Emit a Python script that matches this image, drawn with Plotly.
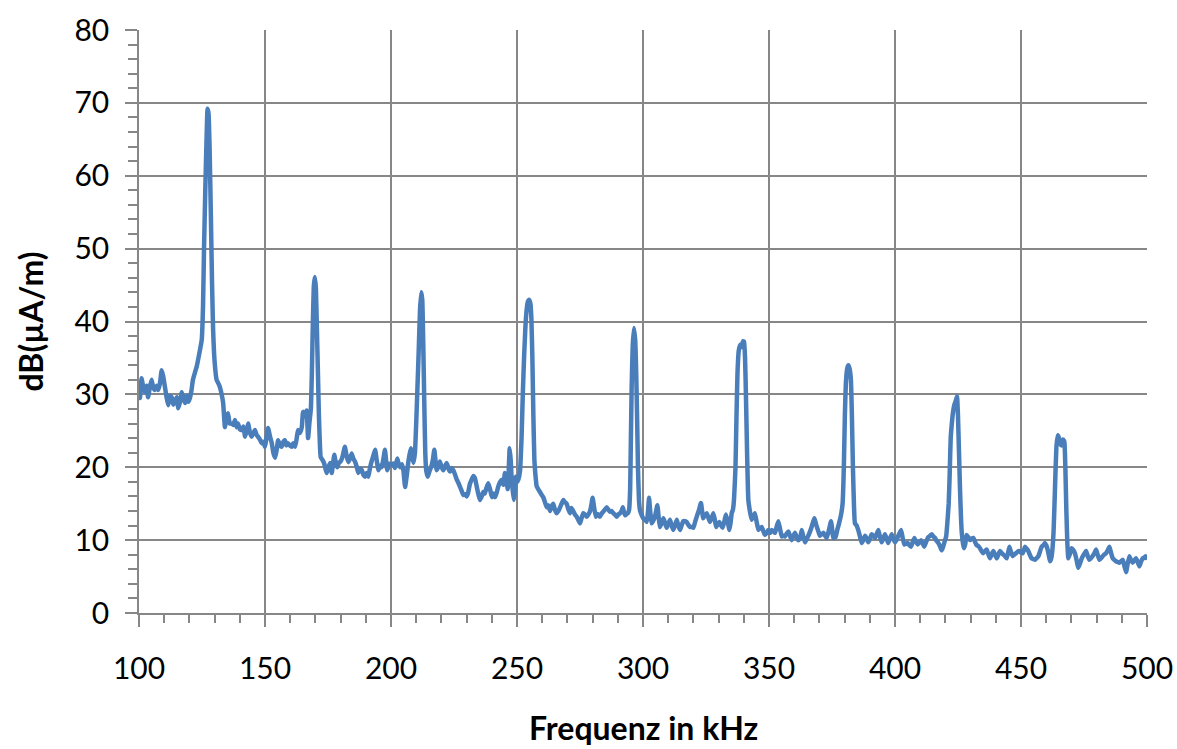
import plotly.graph_objects as go

# Frequency (kHz) and level dB(µA/m)
freq_khz = [
    100.0, 100.4, 101.0, 101.7, 102.4, 103.0, 103.6, 104.3, 105.0, 105.6, 106.3, 107.0, 107.6, 108.3, 109.0, 109.6,
    110.3, 111.0, 111.6, 112.3, 113.0, 113.6, 114.3, 115.0, 115.6, 116.3, 117.0, 117.6, 118.3, 119.0, 119.6, 120.2,
    120.8, 121.4, 122.2, 122.9, 123.6, 124.2, 124.9, 125.4, 125.8, 126.3, 126.8, 127.2, 127.6, 128.0, 128.5, 129.0,
    129.4, 130.0, 130.8, 131.5, 132.1, 132.8, 133.4, 134.1, 134.7, 135.3, 136.0, 136.8, 137.4, 138.1, 138.7, 139.3,
    140.0, 140.7, 141.4, 142.1, 142.7, 143.3, 144.0, 144.7, 145.3, 146.0, 146.6, 147.2, 148.0, 148.7, 149.3, 150.0,
    150.6, 151.2, 152.0, 152.7, 153.3, 154.0, 154.6, 155.2, 156.0, 156.6, 157.3, 157.9, 158.5, 159.1, 159.8, 160.6,
    161.2, 161.9, 162.5, 163.1, 163.8, 164.6, 165.1, 165.8, 166.5, 167.1, 167.6, 168.2, 168.6, 169.0, 169.4, 169.8,
    170.2, 170.6, 171.0, 171.4, 171.8, 172.1, 172.8, 173.4, 174.0, 174.5, 175.2, 175.8, 176.5, 177.0, 177.5, 178.1,
    178.7, 179.3, 180.0, 180.8, 181.7, 182.4, 183.1, 183.8, 184.4, 185.0, 185.7, 186.3, 187.0, 187.7, 188.4, 189.0,
    189.7, 190.3, 191.0, 191.6, 192.3, 193.0, 193.7, 194.3, 195.0, 195.6, 196.3, 197.0, 197.6, 198.5, 199.4, 200.3,
    201.0, 201.6, 202.5, 203.0, 203.6, 204.3, 204.9, 205.6, 206.3, 206.9, 207.8, 208.4, 208.9, 209.5, 210.0, 210.5,
    211.0, 211.5, 212.0, 212.4, 212.8, 213.2, 213.6, 214.0, 214.6, 215.3, 215.9, 216.6, 217.2, 218.1, 218.7, 219.4,
    220.1, 220.8, 221.5, 222.1, 222.8, 223.4, 224.0, 224.7, 225.4, 226.1, 226.8, 227.4, 228.0, 228.7, 229.4, 230.0,
    230.6, 231.3, 232.0, 232.7, 233.3, 234.0, 234.6, 235.3, 236.0, 236.6, 237.2, 237.9, 238.6, 239.3, 240.0, 240.6,
    241.3, 242.0, 242.6, 243.3, 244.0, 244.6, 245.2, 245.8, 246.3, 246.7, 247.1, 247.5, 247.9, 248.4, 248.8, 249.2,
    249.5, 250.0, 250.5, 251.2, 251.8, 252.3, 252.8, 253.3, 253.8, 254.3, 254.8, 255.3, 255.7, 256.1, 256.5, 256.9,
    257.3, 257.8, 258.4, 259.1, 259.8, 260.4, 261.1, 261.8, 262.4, 263.1, 263.7, 264.4, 265.0, 265.7, 266.4, 267.1,
    267.7, 268.4, 269.0, 269.7, 270.3, 271.0, 271.6, 272.3, 273.0, 273.7, 274.3, 275.0, 275.6, 276.3, 277.0, 277.7,
    278.3, 279.0, 279.5, 280.0, 280.6, 281.3, 282.1, 282.9, 283.5, 284.2, 284.9, 285.6, 286.2, 286.9, 287.5, 288.2,
    288.9, 289.6, 290.2, 290.9, 291.5, 292.0, 292.5, 292.9, 293.5, 294.0, 294.5, 294.9, 295.2, 295.5, 295.9, 296.4,
    296.9, 297.3, 297.7, 298.0, 298.4, 298.8, 299.4, 300.1, 300.8, 301.5, 302.0, 302.4, 302.9, 303.4, 304.0, 304.5,
    305.1, 305.7, 306.2, 306.7, 307.4, 308.1, 308.7, 309.4, 310.0, 310.7, 311.3, 312.0, 312.7, 313.4, 314.0, 314.7,
    315.3, 316.0, 316.7, 317.3, 318.0, 318.7, 319.3, 320.0, 320.6, 321.3, 322.2, 323.0, 323.9, 324.6, 325.3, 326.0,
    326.6, 327.3, 327.9, 328.5, 329.0, 329.7, 330.3, 331.0, 331.6, 332.3, 332.9, 333.6, 334.3, 334.8, 335.2, 335.7,
    336.1, 336.7, 337.1, 337.5, 338.0, 338.6, 339.2, 339.7, 340.1, 340.5, 340.9, 341.3, 341.8, 342.4, 343.1, 343.8,
    344.4, 345.1, 345.8, 346.4, 347.1, 347.8, 348.4, 349.1, 349.7, 350.4, 351.1, 351.7, 352.4, 353.0, 353.7, 354.4,
    355.1, 355.7, 356.3, 357.0, 357.7, 358.3, 359.0, 359.6, 360.3, 361.0, 361.6, 362.3, 363.0, 363.6, 364.3, 365.0,
    365.6, 366.3, 366.9, 367.5, 368.0, 368.5, 369.0, 369.6, 370.2, 370.9, 371.6, 372.3, 372.9, 373.8, 374.6, 375.1,
    375.5, 376.4, 377.1, 377.8, 378.6, 379.2, 379.7, 380.1, 380.5, 381.0, 381.5, 382.0, 382.5, 382.9, 383.3, 383.7,
    384.1, 384.8, 385.4, 386.1, 386.8, 387.4, 388.1, 388.8, 389.4, 390.1, 390.7, 391.4, 392.1, 392.7, 393.4, 394.0,
    394.7, 395.3, 396.0, 396.7, 397.3, 398.0, 398.7, 399.3, 400.0, 400.7, 401.3, 402.4, 403.0, 403.7, 404.3, 405.0,
    405.7, 406.3, 407.0, 407.7, 408.3, 409.0, 409.7, 410.3, 411.0, 411.6, 412.4, 413.2, 413.9, 414.6, 415.2, 415.9,
    416.5, 417.2, 417.9, 418.5, 419.0, 419.6, 420.3, 420.8, 421.3, 421.7, 422.1, 422.5, 423.0, 423.5, 424.0, 424.6,
    425.0, 425.4, 425.8, 426.2, 426.5, 427.0, 427.4, 427.9, 428.4, 429.1, 429.8, 430.4, 431.1, 431.7, 432.4, 433.0,
    433.7, 434.3, 435.0, 435.7, 436.4, 437.0, 437.7, 438.3, 439.0, 439.7, 440.4, 441.0, 441.7, 442.4, 443.0, 443.7,
    444.3, 444.9, 445.4, 446.0, 446.7, 447.3, 448.0, 448.6, 449.3, 450.0, 450.7, 451.1, 451.6, 452.3, 452.9, 453.5,
    454.2, 454.9, 455.6, 456.2, 456.9, 457.6, 458.2, 458.9, 459.5, 460.0, 460.4, 461.0, 461.5, 462.0, 462.4, 462.9,
    463.3, 463.7, 464.1, 464.6, 465.1, 465.6, 466.1, 466.7, 467.2, 467.6, 468.0, 468.4, 468.8, 469.5, 470.1, 470.8,
    471.4, 472.1, 472.7, 473.4, 474.1, 474.9, 475.8, 476.4, 477.1, 477.7, 478.4, 479.1, 479.8, 480.4, 481.1, 481.7,
    482.4, 483.0, 483.7, 484.4, 485.1, 485.7, 486.4, 487.0, 487.7, 488.3, 489.0, 489.7, 490.4, 491.0, 491.7, 492.3,
    493.0, 493.6, 494.3, 494.9, 495.6, 496.3, 497.0, 497.6, 498.3, 498.9, 499.4, 500.0,
]

level_db = [
    31.0, 29.5, 32.2, 31.0, 30.3, 31.2, 29.6, 31.0, 32.0, 31.0, 30.6, 31.2, 30.6, 31.5, 33.3, 32.5,
    31.0, 29.5, 28.5, 29.8, 29.6, 28.6, 29.0, 29.6, 28.1, 29.0, 30.3, 29.5, 28.8, 29.8, 29.0, 29.5,
    30.5, 32.0, 33.0, 33.8, 35.0, 36.1, 37.5, 42.0, 50.0, 58.0, 65.0, 69.2, 68.5, 64.0, 55.0, 45.0,
    39.0, 34.5, 32.0, 31.5, 31.0, 30.0, 28.8, 25.5, 26.8, 27.4, 26.0, 26.0, 25.8, 26.5, 25.5, 26.0,
    25.2, 25.1, 25.6, 24.2, 25.0, 26.0, 24.8, 24.2, 24.6, 25.1, 24.5, 24.2, 23.8, 23.3, 23.5, 22.8,
    24.0, 25.4, 24.2, 23.3, 22.0, 21.3, 22.3, 23.7, 23.0, 22.8, 23.5, 23.7, 23.0, 23.3, 23.0, 22.8,
    23.3, 22.8, 23.8, 25.1, 24.7, 25.5, 27.6, 27.0, 27.8, 24.0, 26.0, 28.0, 33.0, 40.0, 45.0, 46.1,
    44.5, 39.0, 33.0, 27.0, 23.0, 21.4, 21.0, 20.6, 19.8, 19.2, 20.0, 20.6, 19.2, 20.5, 21.7, 20.6,
    20.0, 20.6, 20.8, 21.5, 22.8, 21.5, 20.7, 21.3, 21.9, 21.2, 20.8, 20.2, 19.2, 19.8, 19.6, 19.0,
    18.7, 19.2, 18.7, 19.8, 20.8, 21.6, 22.4, 21.0, 19.6, 20.2, 20.0, 21.2, 22.4, 19.6, 20.5, 20.3,
    20.5, 19.9, 21.2, 20.5, 20.0, 20.4, 19.6, 17.3, 19.0, 20.8, 22.6, 21.5, 20.6, 22.0, 26.0, 31.0,
    36.0, 41.5, 44.0, 43.0, 37.0, 29.0, 22.0, 19.5, 18.7, 19.5, 20.0, 21.0, 22.4, 19.6, 20.0, 20.8,
    20.0, 19.6, 20.2, 20.6, 19.8, 19.4, 19.9, 19.6, 19.0, 18.3, 17.8, 17.3, 16.8, 16.2, 16.3, 16.0,
    16.5, 17.7, 18.3, 18.8, 18.5, 17.4, 16.4, 15.5, 16.0, 16.6, 16.4, 17.2, 17.8, 17.0, 15.9, 16.4,
    15.9, 16.6, 17.4, 18.0, 18.3, 17.6, 19.2, 18.5, 17.0, 19.5, 22.6, 21.0, 18.3, 16.5, 15.5, 17.0,
    18.7, 18.0, 18.3, 19.5, 24.0, 30.0, 35.0, 39.0, 41.5, 42.7, 43.0, 42.5, 40.5, 35.0, 27.0, 21.0,
    19.0, 17.4, 17.0, 16.6, 16.2, 15.9, 15.2, 14.5, 14.8, 14.0, 14.6, 15.0, 14.2, 13.7, 14.0, 14.5,
    15.0, 15.5, 15.2, 15.0, 14.3, 13.7, 14.4, 14.0, 13.5, 13.2, 12.8, 12.3, 13.0, 13.7, 13.5, 13.2,
    13.5, 14.0, 14.8, 15.8, 14.5, 13.2, 13.6, 13.2, 13.6, 13.9, 14.2, 14.5, 14.2, 13.9, 14.0, 13.7,
    13.5, 13.2, 13.5, 13.7, 14.0, 14.5, 13.8, 13.4, 13.6, 13.7, 14.2, 17.0, 24.0, 31.0, 36.5, 39.1,
    37.5, 33.0, 26.0, 20.0, 15.5, 14.1, 13.5, 13.0, 12.8, 12.5, 14.0, 15.8, 13.8, 12.3, 12.6, 13.0,
    13.8, 14.8, 13.2, 11.8, 12.3, 13.0, 12.4, 11.7, 12.2, 12.8, 12.1, 11.4, 12.0, 12.8, 12.0, 11.4,
    12.0, 12.6, 12.6, 12.5, 12.1, 11.8, 11.8, 11.7, 12.4, 13.2, 14.1, 15.1, 13.0, 13.4, 13.7, 13.0,
    12.5, 13.1, 13.7, 12.8, 11.8, 12.2, 12.5, 12.0, 11.7, 12.6, 13.5, 12.5, 11.4, 12.5, 13.7, 14.2,
    15.5, 20.0, 27.0, 33.0, 36.0, 36.8, 36.5, 37.3, 37.2, 35.0, 29.0, 22.0, 15.5, 14.0, 12.8, 13.2,
    13.7, 12.5, 11.4, 11.6, 11.8, 11.2, 10.7, 11.0, 11.4, 11.0, 11.4, 11.2, 11.0, 11.8, 12.6, 11.5,
    10.5, 10.6, 10.5, 10.9, 11.2, 10.6, 10.0, 10.5, 11.0, 10.4, 10.0, 10.3, 11.4, 10.5, 9.7, 10.2,
    10.6, 11.2, 11.8, 12.5, 13.0, 12.4, 11.8, 11.2, 10.6, 10.8, 11.0, 10.6, 10.3, 11.4, 12.6, 11.4,
    10.3, 10.4, 11.4, 12.3, 13.5, 15.0, 20.0, 27.0, 31.5, 33.5, 34.0, 33.5, 32.0, 27.0, 20.0, 15.0,
    12.3, 12.0, 11.4, 10.5, 9.6, 10.0, 10.6, 10.2, 9.7, 10.2, 10.8, 10.6, 10.3, 10.8, 11.4, 10.5,
    9.7, 10.2, 10.8, 10.2, 9.6, 10.2, 10.8, 10.2, 9.7, 10.1, 10.6, 11.4, 10.4, 9.4, 9.5, 9.6,
    9.3, 9.1, 9.7, 10.3, 9.8, 9.4, 9.7, 10.0, 9.5, 9.1, 9.8, 10.4, 10.6, 10.8, 10.5, 10.3,
    9.9, 9.6, 9.1, 8.6, 9.0, 9.7, 10.5, 12.5, 15.0, 19.0, 24.0, 25.8, 27.5, 28.5, 29.0, 29.7,
    27.0, 22.0, 17.0, 13.0, 11.0, 9.5, 8.9, 9.5, 10.7, 10.4, 10.0, 10.2, 10.3, 9.8, 9.3, 9.2,
    8.9, 8.5, 8.2, 8.5, 8.7, 8.1, 7.5, 8.0, 8.5, 8.0, 7.5, 8.0, 8.5, 8.2, 8.0, 7.8,
    7.5, 8.3, 9.1, 8.4, 7.8, 8.0, 8.2, 8.4, 8.5, 8.3, 8.2, 8.6, 9.1, 8.8, 8.5, 8.0,
    7.5, 7.4, 7.3, 7.5, 7.8, 8.5, 9.1, 9.3, 9.6, 9.3, 8.9, 8.0, 7.1, 7.5, 8.5, 11.0,
    15.0, 19.5, 23.0, 24.4, 24.0, 23.2, 23.0, 23.8, 23.5, 20.0, 14.0, 9.5, 7.5, 8.2, 8.9, 8.6,
    8.2, 7.2, 6.2, 6.8, 7.5, 8.0, 8.5, 7.9, 7.3, 7.5, 7.8, 8.2, 8.7, 8.0, 7.3, 7.5,
    7.8, 8.0, 8.2, 8.6, 9.1, 8.3, 7.5, 7.3, 7.1, 7.0, 6.9, 7.1, 7.3, 6.5, 5.6, 6.7,
    7.8, 7.3, 6.9, 7.2, 7.5, 7.0, 6.4, 7.0, 7.5, 7.6, 7.8, 7.3,
]

x_title = "Frequenz in kHz"
y_title = "dB(µA/m)"

GRID = "#878787"
LINE = "#4A7EBB"
FONT = "Lato, 'Open Sans', sans-serif"

fig = go.Figure()
fig.add_trace(go.Scatter(
    x=freq_khz, y=level_db, mode="lines",
    line=dict(color=LINE, width=4.5, shape="spline", smoothing=0.4),
    hoverinfo="skip", showlegend=False,
))

axis_common = dict(
    showgrid=True, gridcolor=GRID, gridwidth=1.5,
    showline=True, linecolor=GRID, linewidth=1.5,
    ticks="outside", ticklen=12, tickcolor=GRID, tickwidth=1.5,
    zeroline=False, mirror=False, automargin=False,
    tickfont=dict(family=FONT, size=30, color="#000000"),
)

fig.update_layout(
    width=1177, height=749,
    margin=dict(l=139, r=30, t=30, b=136),
    paper_bgcolor="white", plot_bgcolor="white",
    font=dict(family=FONT, color="#000000"),
    xaxis=dict(
        range=[100, 500], tick0=100, dtick=50,
        minor=dict(dtick=10, ticks="outside", ticklen=8, tickcolor=GRID, tickwidth=1.5, showgrid=False),
        ticklabelstandoff=16,
        **axis_common,
    ),
    yaxis=dict(
        range=[0, 80], tick0=0, dtick=10,
        minor=dict(dtick=2, ticks="outside", ticklen=9, tickcolor=GRID, tickwidth=1.5, showgrid=False),
        ticklabelstandoff=10,
        title=dict(text="<b>" + y_title + "</b>", font=dict(family=FONT, size=32, color="#000000"), standoff=21),
        **axis_common,
    ),
    annotations=[dict(
        text="<b>" + x_title + "</b>", xref="paper", yref="paper",
        x=0.5, y=-0.196, xanchor="center", yanchor="middle",
        showarrow=False, font=dict(family=FONT, size=32, color="#000000"),
    )],
)

fig.write_html(
    "out.html",
    config={"displayModeBar": False},
    post_script="document.body.style.margin='0';document.body.style.overflow='hidden';",
)
